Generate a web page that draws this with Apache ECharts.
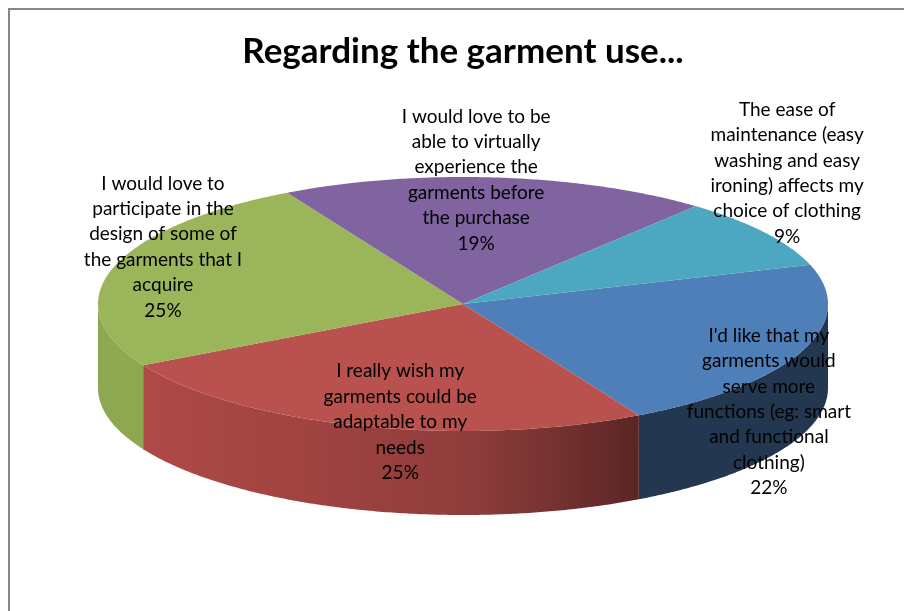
<!DOCTYPE html>
<html>
<head>
<meta charset="utf-8">
<style>html,body{margin:0;padding:0;background:#fff}#chart{width:904px;height:611px}</style>
<script src="https://cdn.jsdelivr.net/npm/echarts@6/dist/echarts.min.js"></script>
</head>
<body>
<div id="chart"></div>
<script>
// Survey answers, clockwise from the blue slice.
const titleText = 'Regarding the garment use...';
const categories = [
  "I'd like that my\ngarments would\nserve more\nfunctions (eg: smart\nand functional\nclothing)",
  'I really wish my\ngarments could be\nadaptable to my\nneeds',
  'I would love to\nparticipate in the\ndesign of some of\nthe garments that I\nacquire',
  'I would love to be\nable to virtually\nexperience the\ngarments before\nthe purchase',
  'The ease of\nmaintenance (easy\nwashing and easy\nironing) affects my\nchoice of clothing'
];
const shares = [22, 25, 25, 19, 9];

// Appearance of each slice: top face, then wall gradient from left to right.
const topColors = ['#4F7FB8', '#B9524E', '#9BB55A', '#8064A0', '#4BA8C0'];
const wallStops = [
  ['#233850', '#233850'],
  ['#AE4A47', '#A04341', '#8E3D3B', '#5A2625'],
  ['#8EA852', '#8EA852'],
  ['#5F4A78', '#5F4A78'],
  ['#38808F', '#38808F']
];
// Label centres, as fractions of the pie radii from its centre.
const labelOffsetX = [0.838, -0.172, -0.822, 0.036, 0.888];
const labelOffsetY = [0.85, 0.93, -0.449, -0.976, -1.03];

// Pie projection
const cx = 463, cy = 304, rx = 365, ry = 127, depth = 84;
const startDeg = 72;
const total = shares.reduce((a, b) => a + b, 0);
const rad = d => d * Math.PI / 180;
const px = d => cx + rx * Math.sin(rad(d));
const py = d => cy - ry * Math.cos(rad(d));

function arcPoints(from, to, dy) {
  const n = Math.max(2, Math.ceil(Math.abs(to - from) * 2));
  const pts = [];
  for (let i = 0; i <= n; i++) {
    const a = from + (to - from) * i / n;
    pts.push([px(a), py(a) + dy]);
  }
  return pts;
}

function sliceAngles(index) {
  let before = 0;
  for (let i = 0; i < index; i++) before += shares[i];
  const from = startDeg + before / total * 360;
  return [from, from + shares[index] / total * 360];
}

function renderSlice(params, api) {
  const i = params.dataIndex;
  const [from, to] = sliceAngles(i);
  const children = [];
  // The wall is only visible along the front half of the rim (90..270 deg).
  const wallFrom = Math.max(from, 90), wallTo = Math.min(to, 270);
  if (wallTo > wallFrom) {
    const upper = arcPoints(wallFrom, wallTo, 0);
    const lower = arcPoints(wallTo, wallFrom, depth);
    const xs = upper.map(p => p[0]);
    const stops = wallStops[i];
    children.push({
      type: 'polygon',
      shape: { points: upper.concat(lower) },
      style: {
        fill: new echarts.graphic.LinearGradient(
          Math.min.apply(null, xs), 0, Math.max.apply(null, xs), 0,
          stops.map((c, k) => ({ offset: k / (stops.length - 1), color: c })),
          true
        )
      }
    });
  }
  children.push({
    type: 'polygon',
    shape: { points: [[cx, cy]].concat(arcPoints(from, to, 0)) },
    style: { fill: topColors[i] }
  });
  return { type: 'group', children };
}

function renderLabel(params, api) {
  const i = params.dataIndex;
  return {
    type: 'text',
    x: cx + labelOffsetX[i] * rx,
    y: cy + labelOffsetY[i] * ry,
    style: {
      text: categories[i] + '\n' + api.value(0) + '%',
      font: '19px Lato, Carlito, sans-serif',
      lineHeight: 25.4,
      fill: '#000',
      align: 'center',
      verticalAlign: 'middle'
    }
  };
}

const chart = echarts.init(document.getElementById('chart'), null, { renderer: 'canvas' });
chart.setOption({
  animation: false,
  backgroundColor: '#fff',
  title: {
    text: titleText,
    left: 458,
    top: 29,
    textAlign: 'center',
    textStyle: { fontFamily: 'Lato, Carlito, sans-serif', fontSize: 35, fontWeight: 'bold', color: '#000' }
  },
  graphic: [{
    type: 'rect',
    silent: true,
    shape: { x: 9, y: 9, width: 1200, height: 900 },
    style: { fill: 'none', stroke: '#868686', lineWidth: 2 }
  }],
  series: [
    {
      type: 'custom', coordinateSystem: 'none', silent: true, z: 2,
      data: shares.map(v => [v]), renderItem: renderSlice
    },
    {
      type: 'custom', coordinateSystem: 'none', silent: true, z: 3,
      data: shares.map(v => [v]), renderItem: renderLabel
    }
  ]
});
</script>
</body>
</html>
